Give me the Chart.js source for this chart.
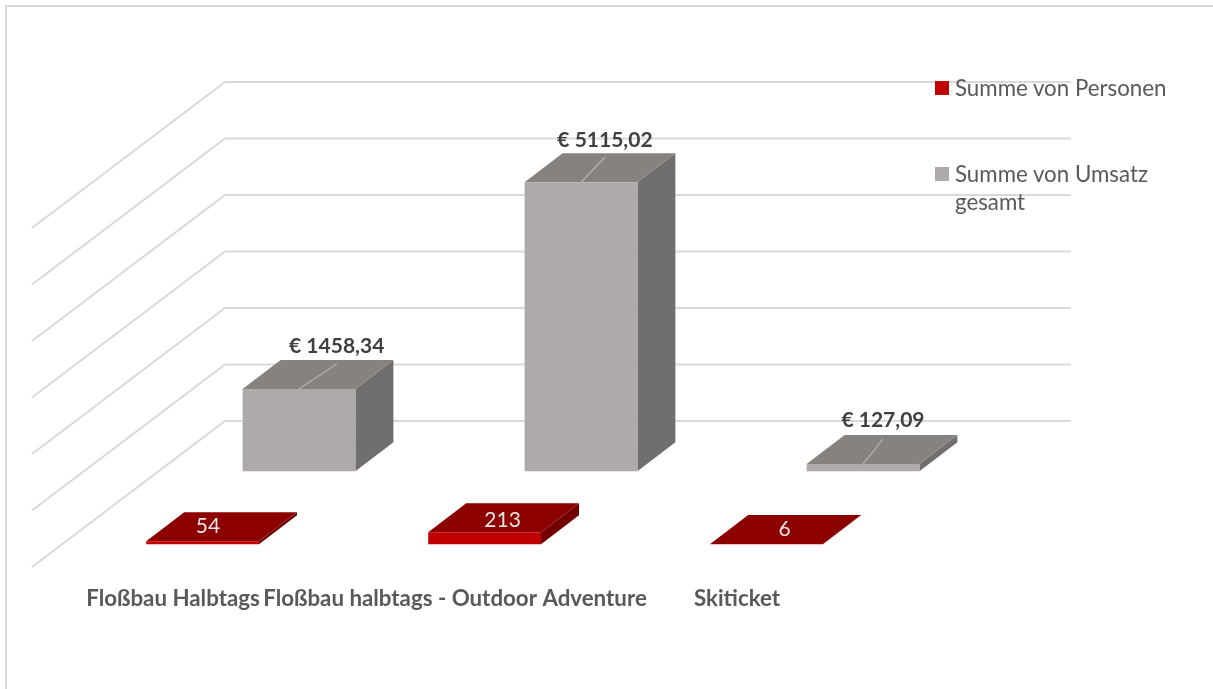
<!DOCTYPE html>
<html lang="de">
<head>
<meta charset="utf-8">
<title>Umsatz und Personen</title>
<script src="https://cdn.jsdelivr.net/npm/chart.js@4"></script>
<style>
  html, body { margin: 0; background: #fff; overflow: hidden; }
  #wrap { position: relative; width: 1213px; height: 689px; }
  #wrap canvas { position: absolute; left: 0; top: 0; }
  #frame { position: absolute; left: 5px; top: 5px; right: 0; bottom: 0; border-top: 2px solid #d9d9d9; border-left: 2px solid #d9d9d9; }
  #legend { position: absolute; left: 935px; top: 73.5px; width: 240px; margin: 0; padding: 0; list-style: none; font: 22.3px/28px Lato, sans-serif; color: #595959; }
  #legend li { position: relative; padding-left: 20px; margin-bottom: 58px; }
  #legend i { position: absolute; left: 0; top: 7.5px; width: 14px; height: 14px; }
</style>
</head>
<body>
<div id="wrap">
  <div id="frame"></div>
  <canvas id="chart" width="1213" height="689"></canvas>
  <ul id="legend"></ul>
</div>
<script>
const categories = ["Floßbau Halbtags", "Floßbau halbtags - Outdoor Adventure", "Skiticket"];
const personen = [54, 213, 6];
const umsatz = [1458.34, 5115.02, 127.09];
const seriesNames = ["Summe von Personen", "Summe von Umsatz gesamt"];

// schräge Tiefe der Balken und des Bodens
const barDepth = { x: 38, y: -29 };
const floorDepth = { x: 193, y: 146 };

const euro = v => "€ " + v.toFixed(2).replace(".", ",");

// Seiten, Deckel und Beschriftung der 3D Balken
const bars3d = {
  id: "bars3d",
  beforeDatasetsDraw(chart) {
    // Rückwand + Boden
    const { ctx, chartArea } = chart;
    const yScale = chart.scales.y;
    ctx.save();
    ctx.strokeStyle = "#d9d9d9";
    ctx.lineWidth = 2;
    yScale.ticks.forEach(t => {
      if (t.value === 0) return;
      const y = yScale.getPixelForValue(t.value);
      ctx.beginPath();
      ctx.moveTo(chartArea.left, y + floorDepth.y);
      ctx.lineTo(chartArea.left + floorDepth.x, y);
      ctx.lineTo(chartArea.right + floorDepth.x, y);
      ctx.stroke();
    });
    ctx.restore();
  },
  beforeDatasetDraw(chart, args) {
    const { ctx } = chart;
    const ds = chart.data.datasets[args.index];
    const meta = chart.getDatasetMeta(args.index);
    ctx.save();
    ctx.translate(ds.shift.x, ds.shift.y);
    meta.data.forEach(bar => {
      const r = bar.x + bar.width / 2;
      const l = bar.x - bar.width / 2;
      ctx.fillStyle = ds.sideColor;
      ctx.beginPath();
      ctx.moveTo(r, bar.y);
      ctx.lineTo(r + barDepth.x, bar.y + barDepth.y);
      ctx.lineTo(r + barDepth.x, bar.base + barDepth.y);
      ctx.lineTo(r, bar.base);
      ctx.closePath();
      ctx.fill();
      ctx.fillStyle = ds.topColor;
      ctx.beginPath();
      ctx.moveTo(l, bar.y);
      ctx.lineTo(l + barDepth.x, bar.y + barDepth.y);
      ctx.lineTo(r + barDepth.x, bar.y + barDepth.y);
      ctx.lineTo(r, bar.y);
      ctx.closePath();
      ctx.fill();
    });
  },
  afterDatasetDraw(chart) {
    chart.ctx.restore();
  },
  afterDatasetsDraw(chart) {
    const { ctx } = chart;
    chart.data.datasets.forEach((ds, i) => {
      chart.getDatasetMeta(i).data.forEach((bar, k) => {
        const x = bar.x + ds.shift.x;
        const y = bar.y + ds.shift.y;
        const lx = x + ds.labelNudge[k][0];
        const ly = y + ds.labelNudge[k][1];
        if (ds.leader) {
          ctx.strokeStyle = "#b3b0ae";
          ctx.lineWidth = 1.25;
          ctx.beginPath();
          ctx.moveTo(x, y);
          ctx.lineTo(lx, y - 25);
          ctx.stroke();
        }
        ctx.fillStyle = ds.labelColor;
        ctx.font = ds.labelFont;
        ctx.textAlign = "center";
        ctx.textBaseline = "middle";
        ctx.fillText(ds.format(ds.data[k]), lx, ly);
      });
    });
  }
};

const chart = new Chart(document.getElementById("chart"), {
  type: "bar",
  data: {
    labels: categories,
    datasets: [
      {
        label: seriesNames[0],
        data: personen,
        backgroundColor: "#c00000",
        topColor: "#8c0000",
        sideColor: "#730000",
        shift: { x: 29.6, y: 66.8 },
        labelNudge: [[5.4, -15], [18, -12], [18, -14.5]],
        labelColor: "#e6e6e6",
        labelFont: "21px Lato, sans-serif",
        format: v => String(v),
        leader: false,
        clip: false
      },
      {
        label: seriesNames[1],
        data: umsatz,
        backgroundColor: "#aeaaaa",
        topColor: "#868280",
        sideColor: "#706e6e",
        shift: { x: 126, y: -6.2 },
        labelNudge: [[37.7, -42.6], [24, -41.6], [20, -44]],
        labelColor: "#404040",
        labelFont: "bold 21px Lato, sans-serif",
        format: euro,
        leader: true,
        clip: false
      }
    ]
  },
  options: {
    responsive: false,
    animation: false,
    grouped: false,
    categoryPercentage: 1,
    barPercentage: 0.4,
    layout: { padding: { left: 32, top: 82, right: 335, bottom: 0 } },
    scales: {
      x: {
        grid: { display: false },
        border: { display: false },
        ticks: {
          padding: 100,
          autoSkip: false,
          maxRotation: 0,
          minRotation: 0,
          color: "#595959",
          font: { family: "Lato, sans-serif", size: 22.3, weight: "bold" }
        },
        afterFit(scale) {
          scale.height = 211.5;
          scale.paddingLeft = 0;
          scale.paddingRight = 0;
        }
      },
      y: {
        display: false,
        min: 0,
        max: 7000,
        ticks: { stepSize: 1000 }
      }
    },
    plugins: {
      legend: { display: false },
      tooltip: { enabled: false }
    }
  },
  plugins: [bars3d]
});

// Legende als html, damit der lange Text umbricht
document.getElementById("legend").innerHTML = chart.data.datasets
  .map(ds => `<li><i style="background:${ds.backgroundColor}"></i>${ds.label}</li>`)
  .join("");
</script>
</body>
</html>
